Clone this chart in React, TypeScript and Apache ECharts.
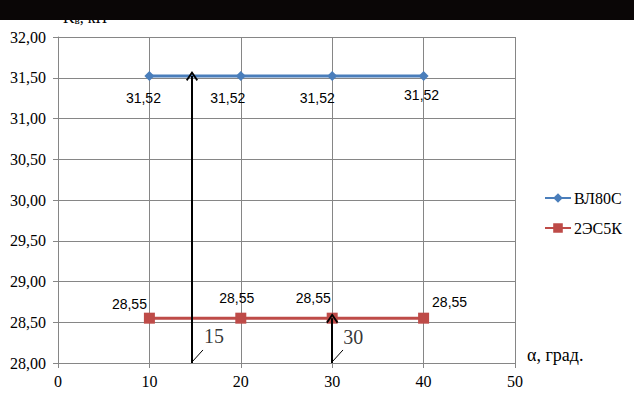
import React, { useEffect, useRef } from "react";
import * as echarts from "echarts";

// ---- data ----
const xValues = [10, 20, 30, 40];
const vl80sValues = [31.52, 31.52, 31.52, 31.52];
const es5kValues = [28.55, 28.55, 28.55, 28.55];
const seriesNames = ["ВЛ80С", "2ЭС5К"];

// annotation arrows (data coordinates)
const arrowX = [14.66, 30];
const arrowFrom = [28, 28];
const arrowTo = [31.52, 28.55];
const angleLabels = ["15", "30"];
const leaderStartX = [14.77, 30.09];
const leaderEndX = [15.86, 31.18];
const leaderStartY = [28.025, 28.025];
const leaderEndY = [28.16, 28.16];
const angleLabelX = [17.06, 32.3];
const angleLabelY = [28.33, 28.32];

// label offsets (styling)
const vlOffsets = [[-6, 22], [-13, 22], [-15, 22], [-2, 19]];
const esOffsets = [[-20, -14], [-4, -20], [-19, -20], [26, -16]];

const fmt = (v: number) => v.toFixed(2).replace(".", ",");

export default function App() {
  const ref = useRef<HTMLDivElement>(null);
  useEffect(() => {
    if (!ref.current) return;
    const chart = echarts.init(ref.current, null, { renderer: "svg" });
    const serif = "'Liberation Serif', 'Times New Roman', serif";
    const sans = "'Liberation Sans', Arial, sans-serif";
    const chevron = "path://M0,0 L6,7 L4.6,8 L0,2.6 L-4.6,8 L-6,7 Z";

    const mkData = (vals: number[], offs: number[][]) =>
      vals.map((v, i) => ({
        value: [xValues[i], v],
        label: { offset: offs[i] },
      }));

    const dataLabel = {
      show: true,
      position: "inside",
      color: "#000",
      textBorderWidth: 0,
      fontFamily: sans,
      fontSize: 14,
      formatter: (p: any) => fmt(p.value[1]),
    };

    const option: any = {
      animation: false,
      grid: { left: 58, right: 119, top: 37, bottom: 36, containLabel: false },
      xAxis: {
        type: "value",
        min: 0,
        max: 50,
        interval: 10,
        axisLine: { show: true, lineStyle: { color: "#868686", width: 1 } },
        axisTick: { show: true, length: 5, lineStyle: { color: "#868686" } },
        splitLine: { show: true, lineStyle: { color: "#868686", width: 1 } },
        axisLabel: { color: "#000", fontFamily: serif, fontSize: 16, margin: 10 },
      },
      yAxis: {
        type: "value",
        min: 28,
        max: 32,
        interval: 0.5,
        axisLine: { show: true, lineStyle: { color: "#868686", width: 1 } },
        axisTick: { show: true, length: 5, lineStyle: { color: "#868686" } },
        splitLine: { show: true, lineStyle: { color: "#868686", width: 1 } },
        axisLabel: {
          color: "#000",
          fontFamily: serif,
          fontSize: 16,
          margin: 12,
          formatter: (v: number) => fmt(v),
        },
      },
      legend: {
        data: seriesNames,
        orient: "vertical",
        left: 544,
        top: 190,
        padding: 0,
        itemWidth: 26,
        itemHeight: 12,
        itemGap: 14,
        textStyle: { fontFamily: serif, fontSize: 16, color: "#000", padding: [0, 0, 0, -2] },
      },
      series: [
        {
          name: seriesNames[0],
          type: "line",
          data: mkData(vl80sValues, vlOffsets),
          symbol: "diamond",
          symbolSize: 10,
          itemStyle: { color: "#4a7ebb" },
          lineStyle: { color: "#4a7ebb", width: 3 },
          label: dataLabel,
          z: 3,
        },
        {
          name: seriesNames[1],
          type: "line",
          data: mkData(es5kValues, esOffsets),
          symbol: "rect",
          symbolSize: 11,
          itemStyle: { color: "#be4b48" },
          lineStyle: { color: "#be4b48", width: 3 },
          label: dataLabel,
          z: 3,
        },
        {
          name: "_arrows",
          type: "line",
          data: [],
          silent: true,
          z: 5,
          markLine: {
            silent: true,
            symbol: ["none", chevron],
            symbolSize: [12, 10],
            label: { show: false },
            lineStyle: { color: "#000", width: 2, type: "solid" },
            emphasis: { disabled: true },
            data: arrowX.map((x, i) => [
              { coord: [x, arrowFrom[i]] },
              { coord: [x, arrowTo[i]] },
            ]),
          },
        },
        {
          name: "_leaders",
          type: "line",
          data: [],
          silent: true,
          z: 5,
          markLine: {
            silent: true,
            symbol: ["none", "none"],
            label: { show: false },
            lineStyle: { color: "#000", width: 1, type: "solid" },
            emphasis: { disabled: true },
            data: leaderStartX.map((x, i) => [
              { coord: [x, leaderStartY[i]] },
              { coord: [leaderEndX[i], leaderEndY[i]] },
            ]),
          },
        },
        {
          name: "_angles",
          type: "scatter",
          silent: true,
          symbolSize: 0,
          itemStyle: { color: "#000" },
          data: angleLabels.map((t, i) => ({ name: t, value: [angleLabelX[i], angleLabelY[i]] })),
          label: {
            show: true,
            position: "inside",
            color: "#000",
            textBorderWidth: 0,
            fontFamily: serif,
            fontSize: 20,
            formatter: (p: any) => p.name,
          },
          z: 5,
        },
      ],
      graphic: [
        {
          type: "text",
          left: 527,
          top: 346,
          style: { text: "α, град.", font: "18px " + serif, fill: "#000" },
        },
        {
          type: "text",
          left: 63,
          top: 9,
          z: 1,
          style: {
            text: "{a|K}{b|в}{a|, кН}",
            rich: {
              a: { fontFamily: serif, fontSize: 16, fill: "#000", color: "#000" },
              b: { fontFamily: serif, fontSize: 11, fill: "#000", color: "#000", padding: [6, 0, 0, 0] },
            },
          },
        },
        {
          type: "rect",
          left: 0,
          top: 0,
          z: 100,
          shape: { width: 634, height: 20 },
          style: { fill: "#0a0606" },
        },
      ],
    };
    chart.setOption(option);
    return () => chart.dispose();
  }, []);
  return (
    <div
      ref={ref}
      style={{ position: "absolute", left: 0, top: 0, width: 634, height: 399, background: "#fff" }}
    />
  );
}
